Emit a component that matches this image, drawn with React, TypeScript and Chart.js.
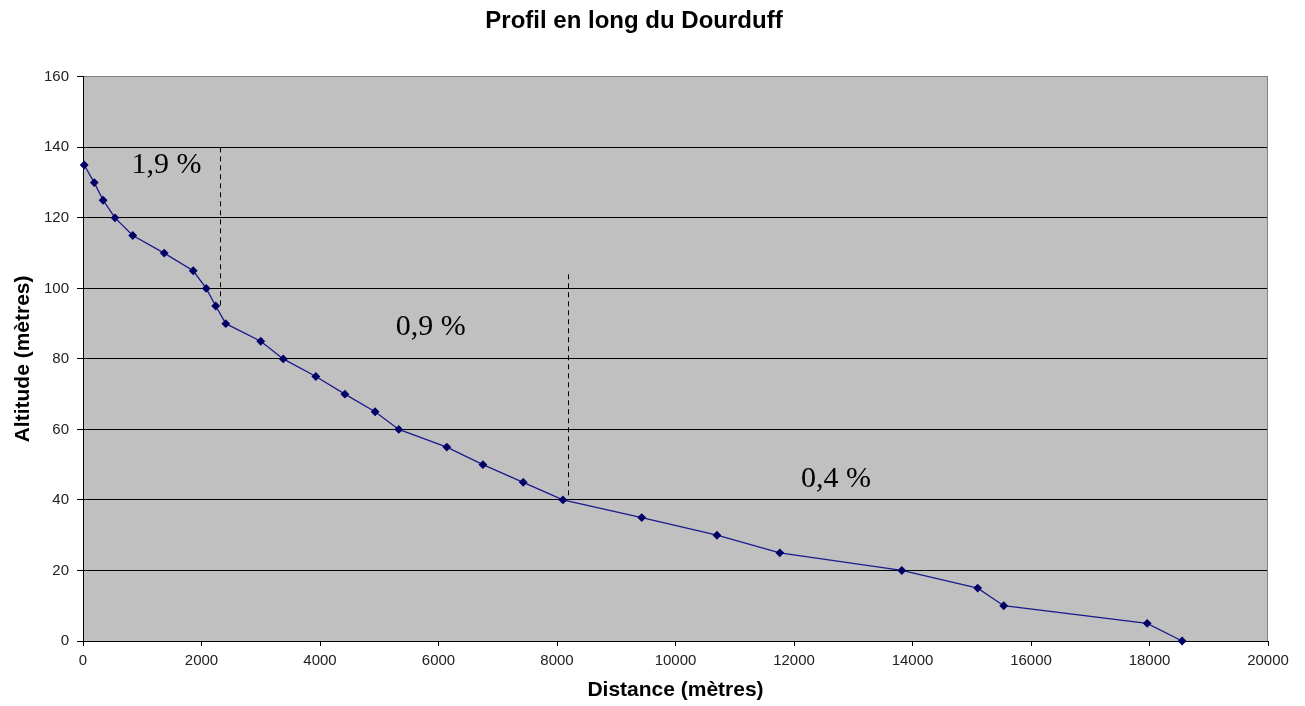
import React, { useEffect, useRef } from "react";
import { Chart, registerables } from "chart.js";

Chart.register(...registerables);

const chartTitle = "Profil en long du Dourduff";
const xAxisTitle = "Distance (mètres)";
const yAxisTitle = "Altitude (mètres)";

// Distance along the river (m)
const distances = [
  20, 190, 340, 540, 840, 1370, 1860, 2080, 2240, 2410, 3000, 3380, 3930, 4420,
  4930, 5330, 6140, 6750, 7430, 8100, 9430, 10700, 11760, 13820, 15100, 15540,
  17960, 18550,
];
// Altitude (m)
const altitudes = [
  135, 130, 125, 120, 115, 110, 105, 100, 95, 90, 85, 80, 75, 70, 65, 60, 55,
  50, 45, 40, 35, 30, 25, 20, 15, 10, 5, 0,
];

// Slope annotations
const slopeLabels = ["1,9 %", "0,9 %", "0,4 %"];
const slopeLabelX = [1410, 5870, 12710];
const slopeLabelY = [135, 89, 46];

// Dashed dividers between slope sections
const dividerX = [2320, 8190];
const dividerTop = [140, 104];
const dividerBottom = [95, 40];

const xMin = 0;
const xMax = 20000;
const xStep = 2000;
const yMin = 0;
const yMax = 160;
const yStep = 20;

const SANS = "'Liberation Sans', Arial, sans-serif";
const SERIF = "'Liberation Serif', 'Times New Roman', serif";

const plotBackground = {
  id: "plotBackground",
  beforeDraw(chart: any) {
    const { ctx, chartArea } = chart;
    ctx.save();
    ctx.fillStyle = "#C0C0C0";
    ctx.fillRect(
      chartArea.left,
      chartArea.top,
      chartArea.right - chartArea.left,
      chartArea.bottom - chartArea.top
    );
    ctx.restore();
  },
  afterDraw(chart: any) {
    const { ctx, chartArea } = chart;
    ctx.save();
    ctx.strokeStyle = "#808080";
    ctx.lineWidth = 1;
    ctx.beginPath();
    ctx.moveTo(Math.round(chartArea.right) - 0.5, chartArea.top);
    ctx.lineTo(Math.round(chartArea.right) - 0.5, chartArea.bottom);
    ctx.stroke();
    ctx.restore();
  },
};

const annotations = {
  id: "slopeAnnotations",
  afterDatasetsDraw(chart: any) {
    const { ctx } = chart;
    const xs = chart.scales.x;
    const ys = chart.scales.y;
    ctx.save();
    ctx.strokeStyle = "#000";
    ctx.lineWidth = 1;
    ctx.setLineDash([5, 4]);
    for (let i = 0; i < dividerX.length; i++) {
      const px = Math.round(xs.getPixelForValue(dividerX[i])) + 0.5;
      ctx.beginPath();
      ctx.moveTo(px, ys.getPixelForValue(dividerTop[i]));
      ctx.lineTo(px, ys.getPixelForValue(dividerBottom[i]));
      ctx.stroke();
    }
    ctx.setLineDash([]);
    ctx.fillStyle = "#000";
    ctx.font = `30px ${SERIF}`;
    ctx.textAlign = "center";
    ctx.textBaseline = "middle";
    for (let i = 0; i < slopeLabels.length; i++) {
      ctx.fillText(
        slopeLabels[i],
        xs.getPixelForValue(slopeLabelX[i]),
        ys.getPixelForValue(slopeLabelY[i])
      );
    }
    ctx.restore();
  },
};

export default function App() {
  const canvasRef = useRef<HTMLCanvasElement | null>(null);

  useEffect(() => {
    if (!canvasRef.current) return;
    const points = distances.map((d, i) => ({ x: d, y: altitudes[i] }));
    const chart = new Chart(canvasRef.current, {
      type: "line",
      data: {
        datasets: [
          {
            label: "Altitude",
            data: points,
            borderColor: "#1A1A8C",
            borderWidth: 1.3,
            backgroundColor: "#000066",
            pointStyle: "rectRot",
            pointRadius: 3.5,
            pointBorderColor: "#000066",
            pointBackgroundColor: "#000066",
            tension: 0,
            fill: false,
            clip: false,
          } as any,
        ],
      },
      options: {
        animation: false,
        responsive: false,
        maintainAspectRatio: false,
        layout: { padding: { left: 0, right: 37, top: 0, bottom: 0 } },
        plugins: {
          legend: { display: false },
          tooltip: { enabled: false },
          title: {
            display: true,
            text: chartTitle,
            color: "#000",
            font: { family: SANS, size: 24, weight: "bold" },
            padding: { top: 7, bottom: 41 },
          },
        },
        scales: {
          x: {
            type: "linear",
            min: xMin,
            max: xMax,
            afterFit(scale: any) {
              scale.height = 65;
            },
            ticks: {
              stepSize: xStep,
              color: "#222",
              font: { family: SANS, size: 15 },
              padding: 6,
              maxRotation: 0,
              callback: (v: any) => String(v),
            },
            grid: {
              drawOnChartArea: false,
              drawTicks: true,
              tickLength: 5,
              tickColor: "#000",
            },
            border: { display: true, color: "#000", width: 1 },
            title: {
              display: true,
              text: xAxisTitle,
              color: "#000",
              font: { family: SANS, size: 21, weight: "bold" },
              padding: { top: 0, bottom: 3 },
            },
          },
          y: {
            type: "linear",
            min: yMin,
            max: yMax,
            afterFit(scale: any) {
              scale.width = 83;
            },
            ticks: {
              stepSize: yStep,
              color: "#222",
              font: { family: SANS, size: 15 },
              padding: 8,
              callback: (v: any) => String(v),
            },
            grid: {
              drawOnChartArea: true,
              drawTicks: true,
              tickLength: 6,
              tickColor: "#000",
              color: (ctx: any) =>
                ctx.tick && ctx.tick.value === yMax ? "#808080" : "#000",
              lineWidth: 1,
            },
            border: { display: true, color: "#000", width: 1 },
            title: {
              display: true,
              text: yAxisTitle,
              color: "#000",
              font: { family: SANS, size: 21, weight: "bold" },
              padding: { top: 11, bottom: 0 },
            },
          },
        },
      },
      plugins: [plotBackground, annotations],
    });
    return () => chart.destroy();
  }, []);

  return (
    <div
      style={{
        position: "fixed",
        left: 0,
        top: 0,
        width: 1305,
        height: 706,
        background: "#fff",
      }}
    >
      <canvas
        ref={canvasRef}
        width={1305}
        height={706}
        style={{ width: 1305, height: 706, display: "block" }}
      />
    </div>
  );
}
